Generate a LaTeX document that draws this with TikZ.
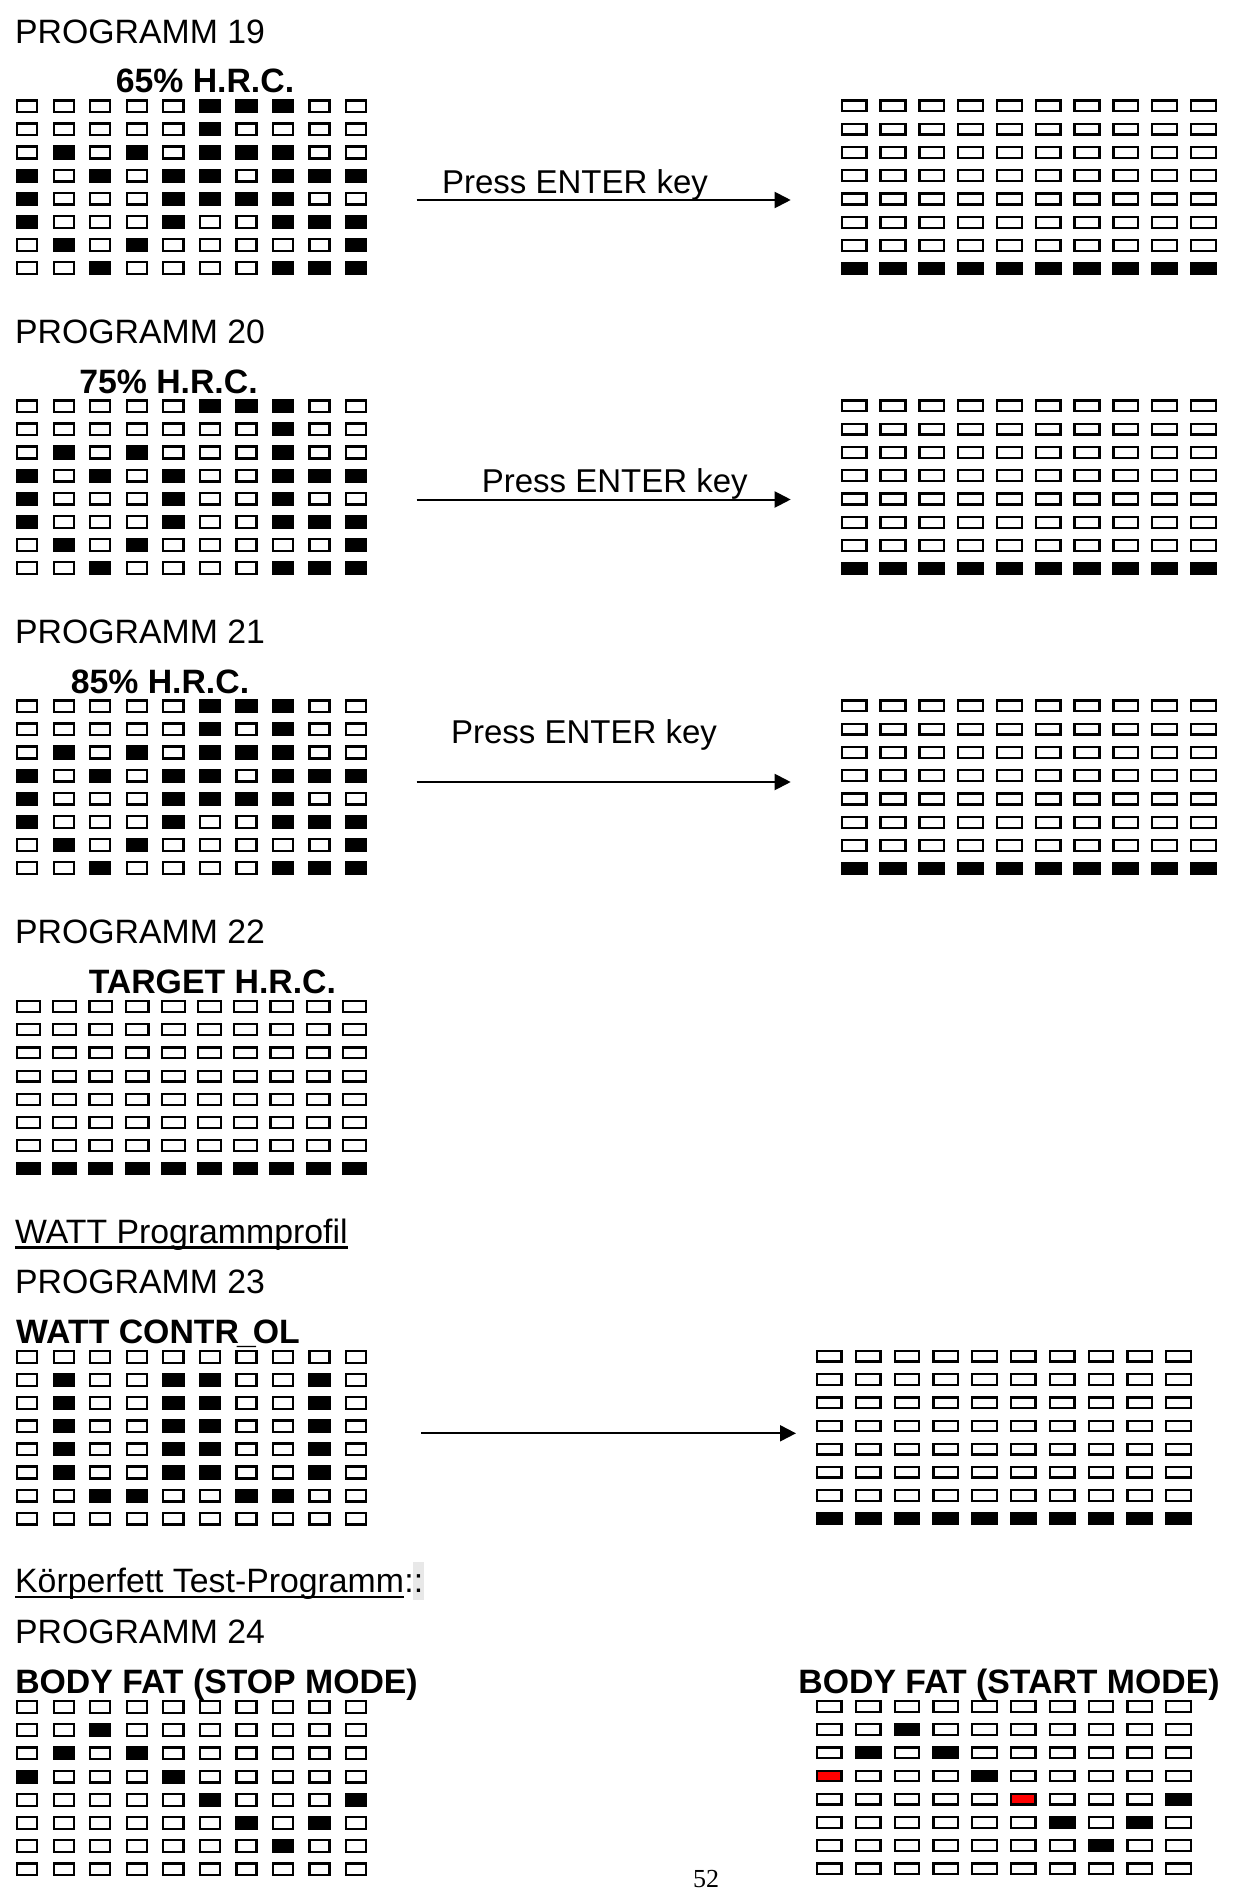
\documentclass[tikz,border=0pt]{standalone}
\usepackage{fontspec}
\setmainfont{Liberation Sans}
\newfontfamily\serifnum{Liberation Serif}
\usetikzlibrary{arrows.meta}
\newcommand{\bigtxt}{\fontsize{33.8}{40}\selectfont}
\def\patNineteen{{0,0,0,0,0,1,1,1,0,0},{0,0,0,0,0,1,0,0,0,0},{0,1,0,1,0,1,1,1,0,0},{1,0,1,0,1,1,0,1,1,1},{1,0,0,0,1,1,1,1,0,0},{1,0,0,0,1,0,0,1,1,1},{0,1,0,1,0,0,0,0,0,1},{0,0,1,0,0,0,0,1,1,1}}
\def\patTwenty{{0,0,0,0,0,1,1,1,0,0},{0,0,0,0,0,0,0,1,0,0},{0,1,0,1,0,0,0,1,0,0},{1,0,1,0,1,0,0,1,1,1},{1,0,0,0,1,0,0,1,0,0},{1,0,0,0,1,0,0,1,1,1},{0,1,0,1,0,0,0,0,0,1},{0,0,1,0,0,0,0,1,1,1}}
\def\patTwentyOne{{0,0,0,0,0,1,1,1,0,0},{0,0,0,0,0,1,0,1,0,0},{0,1,0,1,0,1,1,1,0,0},{1,0,1,0,1,1,0,1,1,1},{1,0,0,0,1,1,1,1,0,0},{1,0,0,0,1,0,0,1,1,1},{0,1,0,1,0,0,0,0,0,1},{0,0,1,0,0,0,0,1,1,1}}
\def\patBar{{0,0,0,0,0,0,0,0,0,0},{0,0,0,0,0,0,0,0,0,0},{0,0,0,0,0,0,0,0,0,0},{0,0,0,0,0,0,0,0,0,0},{0,0,0,0,0,0,0,0,0,0},{0,0,0,0,0,0,0,0,0,0},{0,0,0,0,0,0,0,0,0,0},{1,1,1,1,1,1,1,1,1,1}}
\def\patWatt{{0,0,0,0,0,0,0,0,0,0},{0,1,0,0,1,1,0,0,1,0},{0,1,0,0,1,1,0,0,1,0},{0,1,0,0,1,1,0,0,1,0},{0,1,0,0,1,1,0,0,1,0},{0,1,0,0,1,1,0,0,1,0},{0,0,1,1,0,0,1,1,0,0},{0,0,0,0,0,0,0,0,0,0}}
\def\patStop{{0,0,0,0,0,0,0,0,0,0},{0,0,1,0,0,0,0,0,0,0},{0,1,0,1,0,0,0,0,0,0},{1,0,0,0,1,0,0,0,0,0},{0,0,0,0,0,1,0,0,0,1},{0,0,0,0,0,0,1,0,1,0},{0,0,0,0,0,0,0,1,0,0},{0,0,0,0,0,0,0,0,0,0}}
\def\patStart{{0,0,0,0,0,0,0,0,0,0},{0,0,1,0,0,0,0,0,0,0},{0,1,0,1,0,0,0,0,0,0},{2,0,0,0,1,0,0,0,0,0},{0,0,0,0,0,2,0,0,0,1},{0,0,0,0,0,0,1,0,1,0},{0,0,0,0,0,0,0,1,0,0},{0,0,0,0,0,0,0,0,0,0}}
\newcommand{\ledgrid}[7]{%
  \foreach \rw [count=\ri from 0] in #7 {%
    \foreach \v [count=\ci from 0] in \rw {%
      \pgfmathsetmacro{\cx}{#1+\ci*#3}%
      \pgfmathsetmacro{\cy}{#2+\ri*#4}%
      \ifcase\v\relax \def\ledcol{white}\or \def\ledcol{black}\or \def\ledcol{red}\fi
      \path[led, fill=\ledcol] (\cx+1.1,\cy+1.1) rectangle (\cx+#5-1.1,\cy+#6-1.1);
    }%
  }%
}
\tikzset{
  led/.style={draw=black, line width=2.3pt},
  txt/.style={font=\bigtxt, inner sep=0pt, anchor=base west},
  ttl/.style={font=\bigtxt\bfseries, inner sep=0pt, anchor=base},
  keytxt/.style={font=\fontsize{33}{40}\selectfont, inner sep=0pt, anchor=base},
  flow/.style={line width=2pt, -{Triangle[length=16pt,width=16pt]}},
  uline/.style={line width=2.2pt},
}
\begin{document}
\begin{tikzpicture}[x=1pt,y=-1pt]
\fill[white] (0,0) rectangle (1232,1892);
\useasboundingbox (0,0) rectangle (1232,1892);

% Program 19
\node[txt] (p19) at (15,43.5) {PROGRAMM 19};
\node[ttl] (t19) at (205,93) {65\% H.R.C.};
\ledgrid{16}{99.3}{36.55}{23.1}{22.3}{14}{\patNineteen}
\ledgrid{840.7}{99.3}{38.8}{23.3}{27}{13}{\patBar}
\coordinate (a19s) at (416.7,200);
\coordinate (a19e) at (790.7,200);
\draw[flow] (a19s) -- (a19e);
\node[keytxt] (k19) at (575,193.3) {Press ENTER key};

% Program 20
\node[txt] (p20) at (15,343.5) {PROGRAMM 20};
\node[ttl] (t20) at (168.5,393) {75\% H.R.C.};
\ledgrid{16}{399.3}{36.55}{23.1}{22.3}{14}{\patTwenty}
\ledgrid{840.7}{399.3}{38.8}{23.3}{27}{13}{\patBar}
\coordinate (a20s) at (416.7,499.5);
\coordinate (a20e) at (790.7,499.5);
\draw[flow] (a20s) -- (a20e);
\node[keytxt] (k20) at (614.7,492.5) {Press ENTER key};

% Program 21
\node[txt] (p21) at (15,643.5) {PROGRAMM 21};
\node[ttl] (t21) at (160,693) {85\% H.R.C.};
\ledgrid{16}{699.3}{36.55}{23.1}{22.3}{14}{\patTwentyOne}
\ledgrid{840.7}{699.3}{38.8}{23.3}{27}{13}{\patBar}
\coordinate (a21s) at (416.7,782);
\coordinate (a21e) at (790.7,782);
\draw[flow] (a21s) -- (a21e);
\node[keytxt] (k21) at (584,743) {Press ENTER key};

% Program 22
\node[txt] (p22) at (15,943.5) {PROGRAMM 22};
\node[ttl] (t22) at (212.4,993) {TARGET H.R.C.};
\ledgrid{16}{1000}{36.2}{23.2}{25}{13}{\patBar}

% Watt
\node[txt] (wp) at (15,1243) {WATT Programmprofil};
\draw[uline] ([yshift=-4.5pt]wp.base west) -- ([yshift=-4.5pt]wp.base east);
\node[txt] (p23) at (15,1293) {PROGRAMM 23};
\node[ttl, anchor=base west] (t23) at (16,1343) {WATT CONTR\kern-2pt\_\kern-3pt OL};
\ledgrid{16}{1350}{36.55}{23.1}{22.3}{14}{\patWatt}
\ledgrid{816}{1350}{38.8}{23.2}{26.7}{12.7}{\patBar}
\coordinate (a23s) at (421,1433.3);
\coordinate (a23e) at (796,1433.3);
\draw[flow] (a23s) -- (a23e);

% Body fat
\node[txt] (kt) at (15,1592.7) {Körperfett Test-Programm};
\draw[uline] ([yshift=-4.5pt]kt.base west) -- ([yshift=-4.5pt]kt.base east);
\fill[black!9] ([xshift=9pt,yshift=-7pt]kt.base east) rectangle ([xshift=20pt,yshift=31pt]kt.base east);
\node[txt] (kc) at (kt.base east) {::};
\node[txt] (p24) at (15,1643) {PROGRAMM 24};
\node[ttl] (t24a) at (216.5,1693) {BODY FAT (STOP MODE)};
\node[ttl] (t24b) at (1009,1693) {BODY FAT (START MODE)};
\ledgrid{16}{1700}{36.55}{23.2}{22.3}{14}{\patStop}
\ledgrid{816}{1700}{38.8}{23.2}{26.7}{12.8}{\patStart}

% page number
\node[font=\serifnum\fontsize{26}{30}\selectfont, inner sep=0pt, anchor=base] (pg) at (706,1887.5) {52};
\end{tikzpicture}
\end{document}
